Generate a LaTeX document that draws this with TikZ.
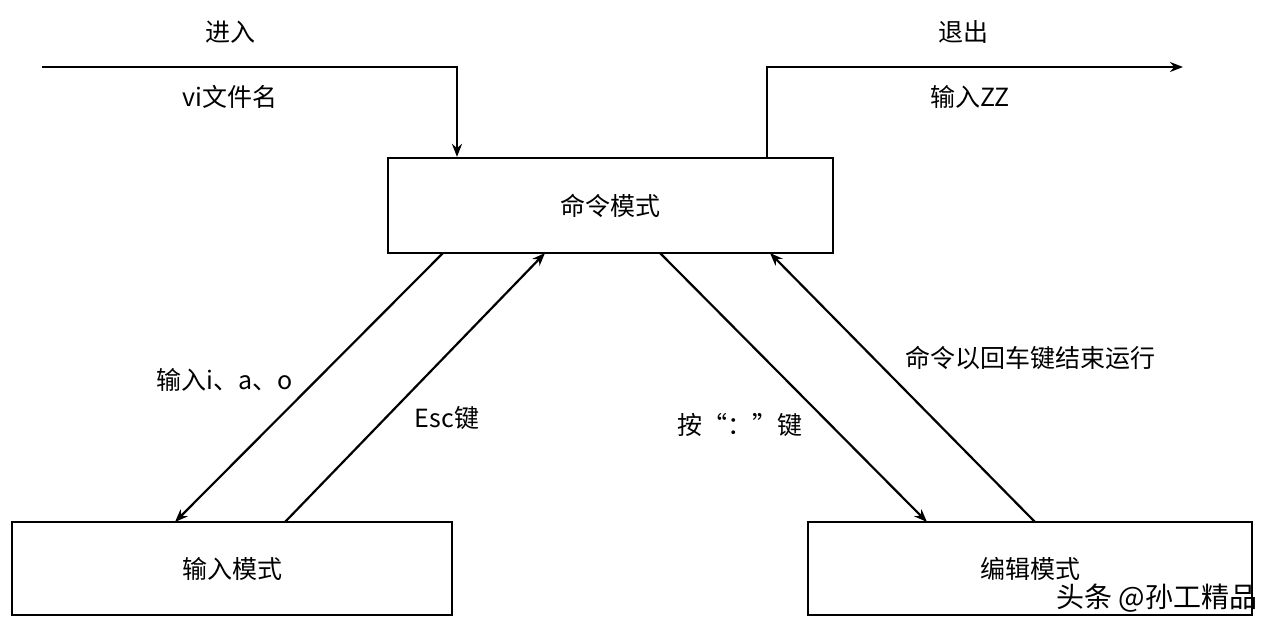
\documentclass[tikz,border=0pt]{standalone}
\usepackage{fontspec}
\setmainfont{Liberation Serif}
\newfontfamily\cjk{Noto Sans CJK SC}
\usetikzlibrary{arrows.meta}
\tikzset{box/.style={draw,line width=2.2pt,minimum width=445pt,minimum height=95pt,inner sep=0pt},
lbl/.style={font=\cjk\fontsize{25}{29}\selectfont},
arr/.style={line width=2.2pt,-{Stealth[length=13pt,width=10pt]}}}
\begin{document}
\begin{tikzpicture}[x=1pt,y=-1pt]
\useasboundingbox (0,0) rectangle (1274,630);
\node[box,lbl] (cmd) at (610.5,205.5) {命令模式};
\node[box,lbl,minimum width=440pt,minimum height=93pt] (inp) at (232,568.5) {输入模式};
\node[box,lbl,minimum width=444pt,minimum height=93pt] (edt) at (1030,568.5) {编辑模式};
\coordinate (s1) at (42,67); \coordinate (c1) at (457,67);
\draw[arr] (s1) -- (c1) -- (cmd.north -| c1);
\coordinate (c2) at (767,67); \coordinate (e2) at (1183,67);
\draw[arr] (cmd.north -| c2) -- (c2) -- (e2);
\coordinate (a1) at (443,253); \coordinate (a2) at (175,522);
\draw[arr] (a1) -- (a2);
\coordinate (b1) at (285,522); \coordinate (b2) at (545,253);
\draw[arr] (b1) -- (b2);
\coordinate (d1) at (660,253); \coordinate (d2) at (927,522);
\draw[arr] (d1) -- (d2);
\coordinate (f1) at (1035,522); \coordinate (f2) at (770,253);
\draw[arr] (f1) -- (f2);
\node[lbl] (t1) at (230,32) {进入};
\node[lbl] (t2) at (230,97) {vi文件名};
\node[lbl] (t3) at (963,32) {退出};
\node[lbl] (t4) at (970,97) {输入ZZ};
\node[lbl] (t5) at (225,380) {输入i、a、o};
\node[lbl] (t6) at (447,418) {Esc键};
\node[lbl] (t7) at (740,425) {按“：”键};
\node[lbl] (t8) at (1030,358) {命令以回车键结束运行};
\node[lbl,font=\cjk\fontsize{28}{32}\selectfont] (wm) at (1157,598) {头条 @孙工精品};
\end{tikzpicture}
\end{document}
